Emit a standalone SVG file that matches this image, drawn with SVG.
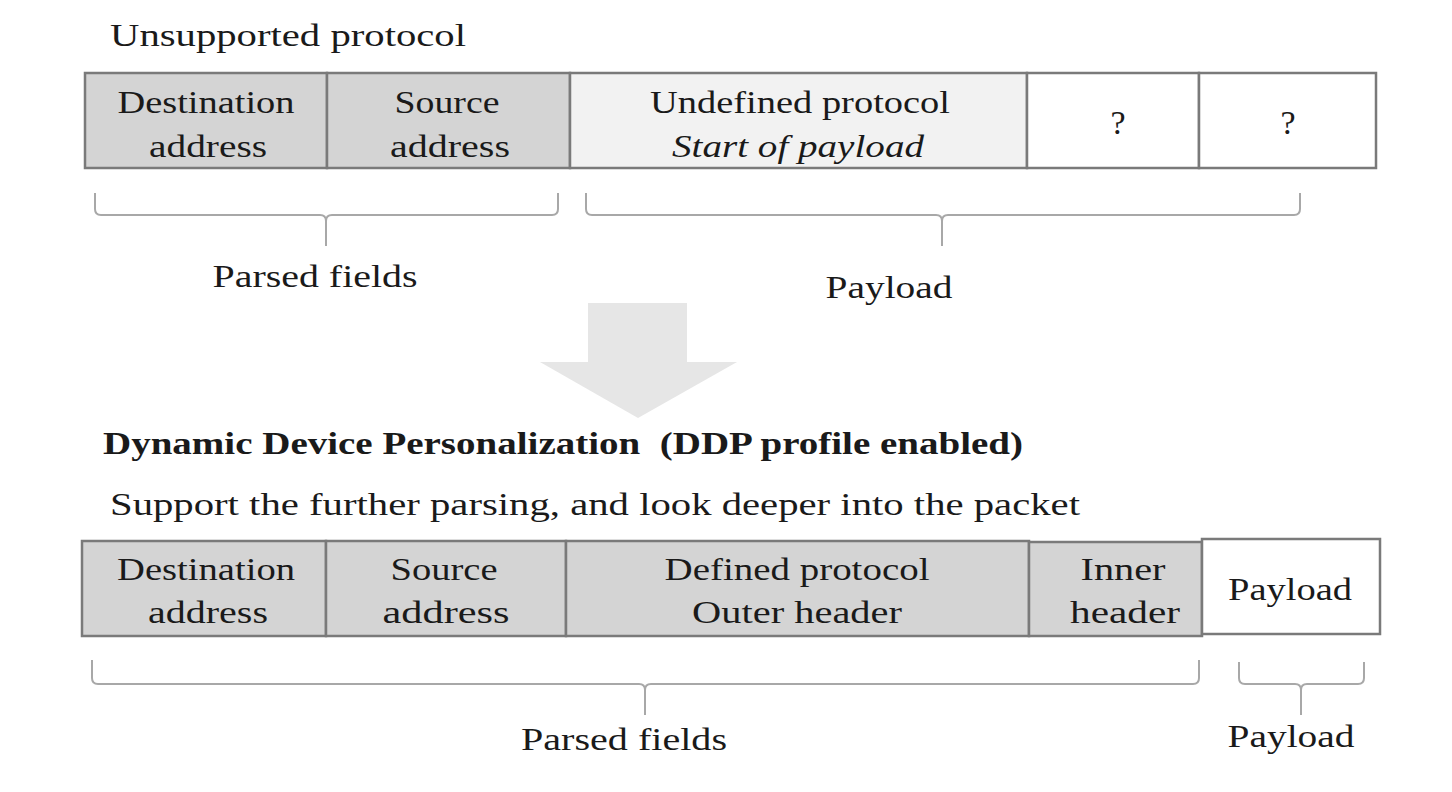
<svg xmlns="http://www.w3.org/2000/svg" width="1452" height="792" viewBox="0 0 1452 792">
<style>
text{font-family:"Liberation Serif","DejaVu Serif",serif;font-size:32px;fill:#1a1a1a}
.c{text-anchor:middle}
.q{font-size:34px}
.cell{stroke:#7a7a7a;stroke-width:2.5}
.dark{fill:#d4d4d4}
.light{fill:#f2f2f2}
.white{fill:#ffffff}
.brace{fill:none;stroke:#a8a8a8;stroke-width:2}
</style>
<rect width="1452" height="792" fill="#ffffff"/>
<text x="110" y="46" textLength="356" lengthAdjust="spacingAndGlyphs">Unsupported protocol</text>
<g id="top-row">
<g id="t-dest"><rect class="cell dark" x="85" y="73" width="242" height="95"/><text class="c" x="206" y="113" textLength="177" lengthAdjust="spacingAndGlyphs">Destination</text><text class="c" x="208" y="157" textLength="118" lengthAdjust="spacingAndGlyphs">address</text></g>
<g id="t-src"><rect class="cell dark" x="327" y="73" width="243" height="95"/><text class="c" x="447" y="113" textLength="105" lengthAdjust="spacingAndGlyphs">Source</text><text class="c" x="450" y="157" textLength="120" lengthAdjust="spacingAndGlyphs">address</text></g>
<g id="t-undef"><rect class="cell light" x="570" y="73" width="457" height="95"/><text class="c" x="800" y="113" textLength="300" lengthAdjust="spacingAndGlyphs">Undefined protocol</text><text class="c" x="798" y="157" font-style="italic" textLength="252" lengthAdjust="spacingAndGlyphs">Start of payload</text></g>
<g id="t-q1"><rect class="cell white" x="1027" y="73" width="172" height="95"/><text class="c q" x="1118" y="134">?</text></g>
<g id="t-q2"><rect class="cell white" x="1199" y="73" width="177" height="95"/><text class="c q" x="1288" y="134">?</text></g>
</g>
<g id="connectors">
<path class="brace" d="M95,193 V209 Q95,215 101,215 H320 Q326,215 326,221 V246 M326,221 Q326,215 332,215 H552 Q558,215 558,209 V193"/>
<path class="brace" d="M586,193 V209 Q586,215 592,215 H936 Q942,215 942,221 V246 M942,221 Q942,215 948,215 H1294 Q1300,215 1300,209 V193"/>
<path class="brace" d="M92,660 V678 Q92,684 98,684 H639 Q645,684 645,690 V715 M645,690 Q645,684 651,684 H1193 Q1199,684 1199,678 V660"/>
<path class="brace" d="M1239,662 V678 Q1239,684 1245,684 H1295 Q1301,684 1301,690 V715 M1301,690 Q1301,684 1307,684 H1358 Q1364,684 1364,678 V662"/>
<polygon points="588,303 687,303 687,362 737,362 638,418 540,362 588,362" fill="#e6e6e6"/>
</g>
<text class="c" x="315" y="287" textLength="205" lengthAdjust="spacingAndGlyphs">Parsed fields</text>
<text class="c" x="889" y="298" textLength="127" lengthAdjust="spacingAndGlyphs">Payload</text>
<text x="103" y="454" font-weight="bold" textLength="920" lengthAdjust="spacingAndGlyphs">Dynamic Device Personalization&#160; (DDP profile enabled)</text>
<text x="110" y="515" textLength="970" lengthAdjust="spacingAndGlyphs">Support the further parsing, and look deeper into the packet</text>
<g id="bottom-row">
<g id="b-dest"><rect class="cell dark" x="82" y="541" width="244" height="95"/><text class="c" x="206" y="580" textLength="178" lengthAdjust="spacingAndGlyphs">Destination</text><text class="c" x="208" y="623" textLength="120" lengthAdjust="spacingAndGlyphs">address</text></g>
<g id="b-src"><rect class="cell dark" x="326" y="541" width="240" height="95"/><text class="c" x="444" y="580" textLength="107" lengthAdjust="spacingAndGlyphs">Source</text><text class="c" x="446" y="623" textLength="127" lengthAdjust="spacingAndGlyphs">address</text></g>
<g id="b-def"><rect class="cell dark" x="566" y="541" width="463" height="95"/><text class="c" x="797" y="580" textLength="265" lengthAdjust="spacingAndGlyphs">Defined protocol</text><text class="c" x="797" y="623" textLength="210" lengthAdjust="spacingAndGlyphs">Outer header</text></g>
<g id="b-inner"><rect class="cell dark" x="1029" y="542" width="173" height="94"/><text class="c" x="1123" y="580" textLength="85" lengthAdjust="spacingAndGlyphs">Inner</text><text class="c" x="1125" y="623" textLength="110" lengthAdjust="spacingAndGlyphs">header</text></g>
<g id="b-payload"><rect class="cell white" x="1202" y="539" width="178" height="95"/><text class="c" x="1290" y="600" textLength="124" lengthAdjust="spacingAndGlyphs">Payload</text></g>
</g>
<text class="c" x="624" y="750" textLength="206" lengthAdjust="spacingAndGlyphs">Parsed fields</text>
<text class="c" x="1291" y="747" textLength="127" lengthAdjust="spacingAndGlyphs">Payload</text>
</svg>
